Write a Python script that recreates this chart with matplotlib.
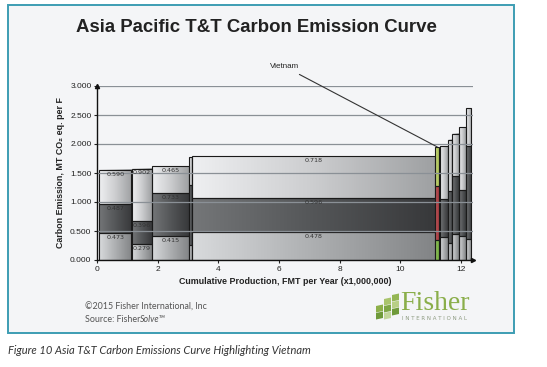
import numpy as np
import matplotlib
matplotlib.use('Agg')
import matplotlib.pyplot as plt
from matplotlib.colors import LinearSegmentedColormap
from matplotlib.patches import Rectangle, Polygon

# Carbon emission curve: each mill group is a bar whose width is production
# and whose height is stacked into three emission components
bar_left = [0.07, 1.17, 1.83, 3.02, 3.14, 11.16, 11.30, 11.56, 11.72, 11.95, 12.16]
bar_width = [1.06, 0.64, 1.19, 0.12, 8.00, 0.12, 0.26, 0.16, 0.23, 0.21, 0.17]
seg_bottom = [0.473, 0.279, 0.415, 0.26, 0.478, 0.34, 0.39, 0.29, 0.44, 0.42, 0.36]
seg_middle = [0.487, 0.396, 0.733, 1.04, 0.596, 0.94, 0.67, 0.90, 1.00, 0.79, 1.61]
seg_top = [0.590, 0.902, 0.465, 0.48, 0.718, 0.67, 0.91, 0.88, 0.74, 1.08, 0.65]
labelled = [0, 1, 2, 4]
vietnam = 5

x_ticks = [0, 2, 4, 6, 8, 10, 12]
y_ticks = [0.0, 0.5, 1.0, 1.5, 2.0, 2.5, 3.0]

title = 'Asia Pacific T&T Carbon Emission Curve'
xlabel = 'Cumulative Production, FMT per Year (x1,000,000)'
ylabel = 'Carbon Emission, MT CO\u2082 eq. per F'
caption = 'Figure 10 Asia T&T Carbon Emissions Curve Highlighting Vietnam'

# gradients for the three components (left -> right)
cm_top = LinearSegmentedColormap.from_list('t', ['#eeeff1', '#cccdcf', '#9fa1a3'])
cm_mid = LinearSegmentedColormap.from_list('m', ['#747678', '#545658', '#38393b'])
cm_bot = LinearSegmentedColormap.from_list('b', ['#d8dadc', '#adafb1', '#838587'])
cm_vn = [LinearSegmentedColormap.from_list('vb', ['#9ccc64', '#6ea83e']),
         LinearSegmentedColormap.from_list('vm', ['#c85a5e', '#a03a40']),
         LinearSegmentedColormap.from_list('vt', ['#cfe07e', '#a6bc55'])]

fig = plt.figure(figsize=(5.47, 3.67), dpi=100)
fig.patch.set_facecolor('white')

# panel frame (behind the axes)
fig.patches.append(Rectangle((8/547, 1-333/367), 506/547, 328/367, transform=fig.transFigure,
                             facecolor='#f4f5f7', edgecolor='#3d9db3', lw=1.4, zorder=-5))

ax = fig.add_axes([97/547, 1-260/367, 376/547, 174/367])
ax.set_facecolor('none')

grad = np.linspace(0, 1, 64).reshape(1, -1)
for i in range(len(bar_left)):
    x0 = bar_left[i]
    x1 = bar_left[i] + bar_width[i]
    segs = [seg_bottom[i], seg_middle[i], seg_top[i]]
    cmaps = cm_vn if i == vietnam else [cm_bot, cm_mid, cm_top]
    y0 = 0
    for k in range(3):
        y1 = y0 + segs[k]
        ax.imshow(grad, cmap=cmaps[k], extent=[x0, x1, y0, y1], aspect='auto',
                  interpolation='bilinear', zorder=2)
        ax.add_patch(Rectangle((x0, y0), x1-x0, y1-y0, fill=False,
                               edgecolor='#1a1a1a', lw=0.8, zorder=2.5))
        if i in labelled:
            ax.annotate('%.3f' % segs[k], ((x0+x1)/2, y1), xytext=(0, -3.2),
                        textcoords='offset points', ha='center', va='center',
                        fontsize=4.6, color='#333333', zorder=4)
        y0 = y1

ax.set_xlim(0, 12.4)
ax.set_ylim(0, 3.0)

# gridlines drawn over the bars
for y in y_ticks[1:]:
    ax.axhline(y, color='#8a9096', lw=0.9, zorder=3)

ax.set_xticks(x_ticks)
ax.set_yticks(y_ticks)
ax.set_yticklabels(['%.3f' % v for v in y_ticks])
ax.tick_params(length=2.5, width=0.8, pad=1.5, labelsize=6, colors='#222222')
for lab in ax.get_xticklabels() + ax.get_yticklabels():
    lab.set_fontfamily('Liberation Sans')
for s in ['top', 'right']:
    ax.spines[s].set_visible(False)
for s in ['left', 'bottom']:
    ax.spines[s].set_color('#111111')
    ax.spines[s].set_linewidth(1.0)
    ax.spines[s].set_zorder(5)
ax.plot(0, 1, marker='^', ms=3, color='#111111', transform=ax.transAxes, clip_on=False, zorder=6)
ax.plot(1, 0, marker='>', ms=3, color='#111111', transform=ax.transAxes, clip_on=False, zorder=6)

ax.set_xlabel(xlabel, fontsize=6.4, fontweight='bold', family=['Liberation Sans', 'DejaVu Sans'],
              labelpad=3, color='#222222')
ax.set_ylabel(ylabel, fontsize=6.4, fontweight='bold', family=['Liberation Sans', 'DejaVu Sans'],
              labelpad=4, color='#222222')

# Vietnam callout
vx = bar_left[vietnam] + bar_width[vietnam]/2
vy = seg_bottom[vietnam] + seg_middle[vietnam] + seg_top[vietnam]
ax.annotate('Vietnam', (vx, vy), xytext=(6.2, 3.33), textcoords='data', ha='center', va='center',
            fontsize=5.8, family='Liberation Sans', color='#222222', annotation_clip=False,
            arrowprops=dict(arrowstyle='-', color='#333333', lw=0.8, shrinkA=2, shrinkB=0), zorder=6)

fig.text(256/547, 1-27/367, title, ha='center', va='center', fontsize=13.4, fontweight='bold',
         family='Liberation Sans', color='#222222')

fig.text(85/547, 1-307/367, '\u00a92015 Fisher International, Inc', fontsize=6.4, family='Lato',
         color='#555555', va='center')
src = fig.text(85/547, 1-320/367, 'Source: Fisher', fontsize=6.4, family='Lato', color='#555555',
               va='center')
fig.add_artist(plt.Annotation('Solve\u2122', xy=(1, 0.5), xycoords=src, ha='left', va='center',
                              fontsize=6.4, family='Lato', style='italic', color='#555555'))

fig.text(8/547, 1-350/367, caption, fontsize=8.0, family='Lato', style='italic',
         color='#333333', va='center')

# Fisher logo
blocks = [((376, 306), '#8db04a'), ((376, 313), '#6f9a3a'),
          ((384, 299), '#a9c46c'), ((384, 306), '#7ea645'), ((384, 313), '#c2d69a'),
          ((392, 295), '#94b654'), ((392, 302), '#b8cf86'), ((392, 309), '#6f9a3a')]
for (bx, by), c in blocks:
    pts = [(bx, by), (bx+7, by-1.5), (bx+7, by+5), (bx, by+6.5)]
    pts = [(px/547, 1-py/367) for px, py in pts]
    fig.patches.append(Polygon(pts, closed=True, transform=fig.transFigure, facecolor=c,
                               edgecolor='none', zorder=2))
fig.text(400/547, 1-310/367, 'Fisher', fontsize=20, family='Liberation Serif', color='#8aae4a',
         va='baseline')
fig.text(402/547, 1-318/367, ' '.join('INTERNATIONAL'), fontsize=4.0, family='DejaVu Sans',
         color='#8c9a80', va='center')

fig.savefig('out.png', dpi=100)
